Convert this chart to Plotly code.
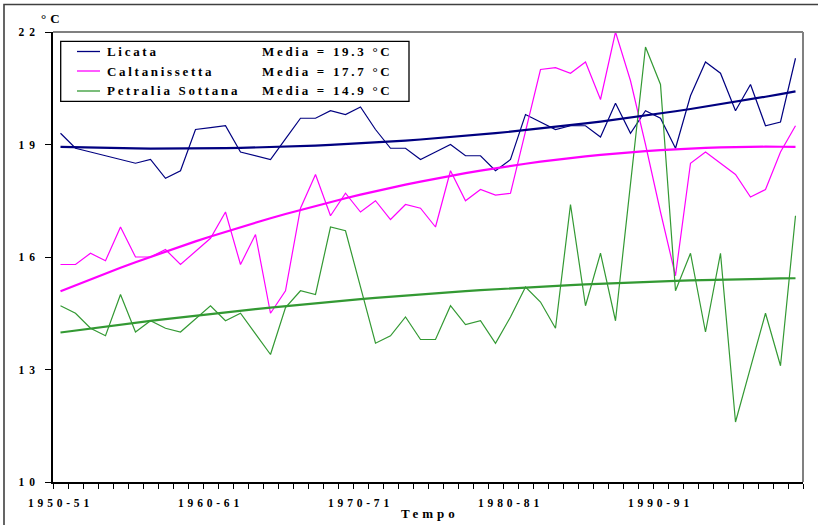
import numpy as np
import plotly.graph_objects as go

# Annual mean temperature (°C), hydrological years 1950-51 .. 1999-2000
years = [f"{y}-{str(y + 1)[-2:]}" for y in range(1950, 2000)]

licata = [19.3, 18.9, 18.8, 18.7, 18.6, 18.5, 18.6, 18.1, 18.3, 19.4,
          19.45, 19.5, 18.8, 18.7, 18.6, 19.15, 19.7, 19.7, 19.9, 19.8,
          20.0, 19.4, 18.9, 18.9, 18.6, 18.8, 19.0, 18.7, 18.7, 18.3,
          18.6, 19.8, 19.6, 19.4, 19.5, 19.5, 19.2, 20.1, 19.3, 19.9,
          19.7, 18.9, 20.3, 21.2, 20.9, 19.9, 20.6, 19.5, 19.6, 21.3]

caltanissetta = [15.8, 15.8, 16.1, 15.9, 16.8, 16.0, 16.0, 16.2, 15.8, 16.15,
                 16.5, 17.2, 15.8, 16.6, 14.5, 15.1, 17.3, 18.2, 17.1, 17.7,
                 17.2, 17.5, 17.0, 17.4, 17.3, 16.8, 18.3, 17.5, 17.8, 17.65,
                 17.7, 19.35, 21.0, 21.05, 20.9, 21.2, 20.2, 22.0, 20.7, 19.0,
                 17.2, 15.5, 18.5, 18.8, 18.5, 18.2, 17.6, 17.8, 18.8, 19.5]

petralia = [14.7, 14.5, 14.1, 13.9, 15.0, 14.0, 14.3, 14.1, 14.0, 14.35,
            14.7, 14.3, 14.5, 13.95, 13.4, 14.65, 15.1, 15.0, 16.8, 16.7,
            15.2, 13.7, 13.9, 14.4, 13.8, 13.8, 14.7, 14.2, 14.3, 13.7,
            14.4, 15.2, 14.8, 14.1, 17.4, 14.7, 16.1, 14.3, 17.95, 21.6,
            20.6, 15.1, 16.1, 14.0, 16.1, 11.6, 13.05, 14.5, 13.1, 17.1]

stations = ["Licata", "Caltanissetta", "Petralia Sottana"]
series = [licata, caltanissetta, petralia]
means = [19.3, 17.7, 14.9]
colors = ["#000080", "#FF00FF", "#339933"]

x_labels = ["1950-51", "1960-61", "1970-71", "1980-81", "1990-91"]
x_label_pos = [0, 10, 20, 30, 40]
y_ticks = [10, 13, 16, 19, 22]

FONT = "Liberation Serif, Times New Roman, serif"


def spaced(text, ls):
    return f'<span style="letter-spacing:{ls}px">{text}</span>'


# plot area in pixels (used to place the legend block and frame)
W, H = 818, 525
L, R, T, B = 53, 15, 32, 43
PW, PH = W - L - R, H - T - B


def px(x):
    return (x - L) / PW


def py(y):
    return (H - B - y) / PH


idx = np.arange(len(years))
fig = go.Figure()

# yearly values
for name, vals, col in zip(stations, series, colors):
    fig.add_trace(go.Scatter(x=idx, y=vals, mode="lines", name=name,
                             line=dict(color=col, width=1.2),
                             showlegend=False, hoverinfo="x+y"))

# second-order polynomial trend for each station
for name, vals, col in zip(stations, series, colors):
    coef = np.polyfit(idx, np.array(vals), 2)
    fig.add_trace(go.Scatter(x=idx, y=np.polyval(coef, idx), mode="lines",
                             name=name + " (tendenza)",
                             line=dict(color=col, width=2.2),
                             showlegend=False, hoverinfo="skip"))

shapes = [
    # top and right border of the plot area
    dict(type="line", xref="paper", yref="paper", x0=0, x1=1, y0=1, y1=1,
         line=dict(color="#808080", width=2)),
    dict(type="line", xref="paper", yref="paper", x0=1, x1=1, y0=0, y1=1,
         line=dict(color="#808080", width=2)),
    # outer frame of the chart
    dict(type="rect", xref="paper", yref="paper",
         x0=px(4), x1=px(840), y0=py(560), y1=py(4.5),
         line=dict(color="#404040", width=1.6)),
    # legend box
    dict(type="rect", xref="paper", yref="paper",
         x0=px(60.7), x1=px(409), y0=py(101.3), y1=py(41.3),
         line=dict(color="black", width=1.3), fillcolor="white"),
]

annotations = [
    dict(text=spaced("°C", 4), xref="paper", yref="paper", x=px(52), y=py(18),
         showarrow=False, xanchor="center", yanchor="middle",
         font=dict(family=FONT, size=13, color="black", weight="bold")),
    dict(text=spaced("Tempo", 4), xref="paper", yref="paper", x=px(430), y=py(513),
         showarrow=False, xanchor="center", yanchor="middle",
         font=dict(family=FONT, size=13, color="black", weight="bold")),
]

row_y = [51.5, 71, 91]
for name, m, col, ry in zip(stations, means, colors, row_y):
    shapes.append(dict(type="line", xref="paper", yref="paper",
                       x0=px(77), x1=px(100), y0=py(ry), y1=py(ry),
                       line=dict(color=col, width=1.3)))
    annotations.append(dict(text=spaced(name, 2.7), xref="paper", yref="paper",
                            x=px(105), y=py(ry), showarrow=False,
                            xanchor="left", yanchor="middle",
                            font=dict(family=FONT, size=13, color="black", weight="bold")))
    annotations.append(dict(text=spaced(f"Media = {m:.1f} °C", 2.7), xref="paper", yref="paper",
                            x=px(260), y=py(ry), showarrow=False,
                            xanchor="left", yanchor="middle",
                            font=dict(family=FONT, size=13, color="black", weight="bold")))

fig.update_layout(
    width=W, height=H,
    margin=dict(l=L, r=R, t=T, b=B, pad=0),
    paper_bgcolor="white", plot_bgcolor="white",
    showlegend=False,
    shapes=shapes, annotations=annotations,
    font=dict(family=FONT, color="black"),
)

fig.update_xaxes(
    range=[-0.5, len(years) - 0.5], automargin=False,
    tickmode="array", tickvals=x_label_pos,
    ticktext=[spaced(t, 3.8) for t in x_labels],
    ticks="", ticklabelstandoff=9,
    tickfont=dict(family=FONT, size=11.5, color="black", weight="bold"),
    showline=True, linecolor="black", linewidth=1.5,
    showgrid=False, zeroline=False,
    minor=dict(tickmode="array", tickvals=[k - 0.5 for k in range(len(years) + 1)],
               ticks="outside", ticklen=5, tickwidth=1, tickcolor="black", showgrid=False),
)

fig.update_yaxes(
    range=[10, 22], automargin=False,
    tickmode="array", tickvals=y_ticks,
    ticktext=[spaced(str(v), 5) for v in y_ticks],
    ticks="outside", ticklen=6, tickwidth=1, tickcolor="black",
    ticklabelstandoff=3,
    tickfont=dict(family=FONT, size=11.5, color="black", weight="bold"),
    showline=True, linecolor="black", linewidth=1.5,
    showgrid=False, zeroline=False,
)

fig.write_html("out.html")
